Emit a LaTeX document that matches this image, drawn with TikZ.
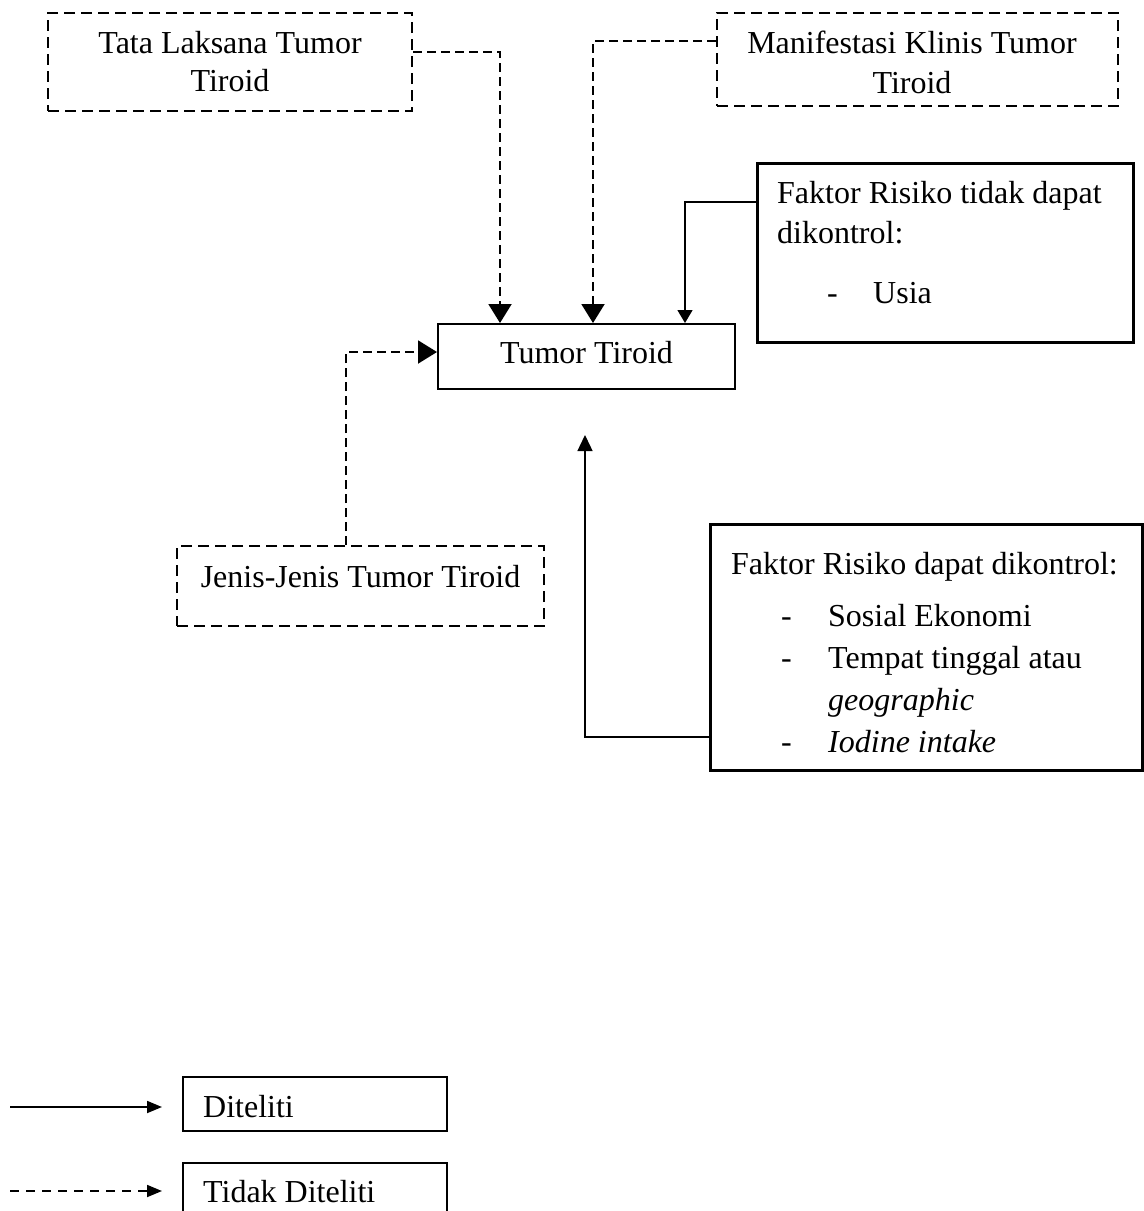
\documentclass[tikz,border=0pt]{standalone}
\usepackage{fontspec}
\setmainfont{Liberation Serif}
\usetikzlibrary{arrows.meta}
\begin{document}
\begin{tikzpicture}[x=1pt,y=-1pt,
  every node/.style={font=\fontsize{32}{40}\selectfont},
  dbox/.style={draw, line width=2pt, dash pattern=on 11pt off 6pt, rectangle, inner sep=0pt},
  sbox/.style={draw, line width=2pt, rectangle, inner sep=0pt},
  tbox/.style={draw, line width=3pt, rectangle, inner sep=0pt},
  txt/.style={inner sep=0pt, anchor=base},
  ltxt/.style={inner sep=0pt, anchor=base west},
  dconn/.style={line width=2pt, dash pattern=on 9pt off 5pt, -{Triangle[length=19pt,width=23pt]}},
  sconn/.style={line width=1.4pt, -{Triangle[length=13pt,width=15pt]}},
  legs/.style={line width=1.8pt, -{Triangle[length=15pt,width=12pt]}},
  legd/.style={line width=1.8pt, dash pattern=on 9pt off 7pt, -{Triangle[length=15pt,width=12pt]}}
]
\useasboundingbox (0,0) rectangle (1144,1211);
\clip (0,0) rectangle (1144,1211);

% top-left
\node[dbox, minimum width=364pt, minimum height=98pt] (tata) at (230,62) {};
\node[txt] (tataA) at (230,53) {Tata Laksana Tumor};
\node[txt] (tataB) at (230,91) {Tiroid};

% top-right
\node[dbox, minimum width=401pt, minimum height=93pt] (mani) at (917.5,59.5) {};
\node[txt] (maniA) at (912,53) {Manifestasi Klinis Tumor};
\node[txt] (maniB) at (912,93) {Tiroid};

% risk factors not controllable
\node[tbox, minimum width=376pt, minimum height=179pt] (fak1) at (945,252.5) {};
\node[ltxt] (f1a) at (777,203) {Faktor Risiko tidak dapat};
\node[ltxt] (f1b) at (777,243) {dikontrol:};
\node[ltxt] (f1c) at (827,303) {-};
\node[ltxt] (f1d) at (873,303) {Usia};

% central
\node[sbox, minimum width=297pt, minimum height=65pt] (tumor) at (586.5,356.5) {};
\node[txt] (tumorT) at (586.5,363) {Tumor Tiroid};

% types
\node[dbox, minimum width=367pt, minimum height=80pt] (jenis) at (360.5,586) {};
\node[txt] (jenisT) at (360.5,587) {Jenis-Jenis Tumor Tiroid};

% risk factors controllable
\node[tbox, minimum width=432pt, minimum height=246pt] (fak2) at (926,647) {};
\node[ltxt] (f2a) at (731,574) {Faktor Risiko dapat dikontrol:};
\node[ltxt] (f2b) at (781,626) {-};
\node[ltxt] (f2c) at (828,626) {Sosial Ekonomi};
\node[ltxt] (f2d) at (781,668) {-};
\node[ltxt] (f2e) at (828,668) {Tempat tinggal atau};
\node[ltxt] (f2f) at (828,710) {\itshape geographic};
\node[ltxt] (f2g) at (781,752) {-};
\node[ltxt] (f2h) at (828,752) {\itshape Iodine intake};

% connectors
\draw[dconn] (tata.east |- 0,52) -| (tumor.north -| 500,0);
\draw[dconn] (mani.west |- 0,41) -| (tumor.north -| 593,0);
\draw[sconn] (fak1.west |- 0,202) -| (tumor.north -| 685,0);
\draw[dconn] (jenis.north -| 346,0) |- (tumor.west |- 0,352);
\coordinate (upEnd) at (585,435);
\draw[sconn, -{Triangle[length=16pt,width=15pt]}] (fak2.west |- 0,737) -| (upEnd);

% legend
\node[sbox, minimum width=264pt, minimum height=54pt] (leg1) at (315,1104) {};
\node[ltxt] (leg1T) at (203,1117) {Diteliti};
\node[sbox, minimum width=264pt, minimum height=80pt] (leg2) at (315,1203) {};
\node[ltxt] (leg2T) at (203,1202) {Tidak Diteliti};
\coordinate (l1s) at (10,1107);
\coordinate (l1e) at (162,1107);
\coordinate (l2s) at (10,1191);
\coordinate (l2e) at (162,1191);
\draw[legs] (l1s) -- (l1e);
\draw[legd] (l2s) -- (l2e);
\end{tikzpicture}
\end{document}
